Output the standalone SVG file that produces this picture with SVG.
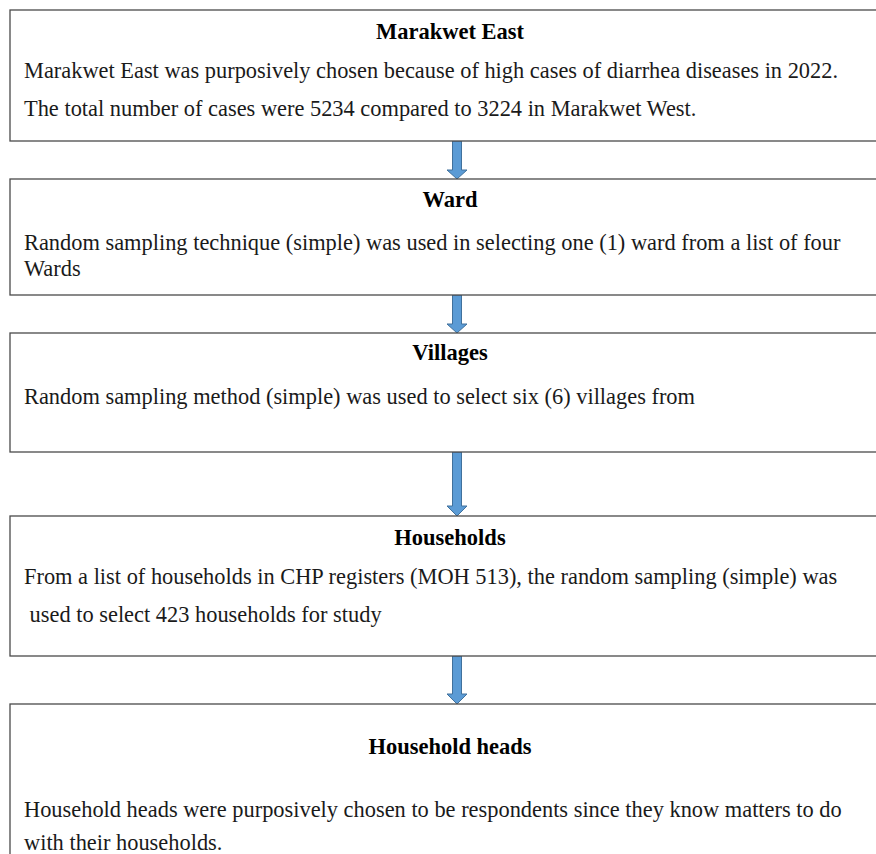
<svg xmlns="http://www.w3.org/2000/svg" width="876" height="854" viewBox="0 0 876 854">
<defs>
<style>
.box{fill:#fff;stroke:#4a4a4a;stroke-width:1.3}
.t{font-family:"Liberation Serif","Times New Roman",serif;font-size:22.4px;fill:#1a1a1a}
.h{font-family:"Liberation Serif","Times New Roman",serif;font-size:22.5px;font-weight:bold;fill:#000;text-anchor:middle}
.arr{fill:#5b9bd5;stroke:#41719c;stroke-width:1}
</style>
</defs>
<rect width="876" height="854" fill="#fff"/>
<g id="connectors">
<polygon class="arr" points="452.5,141 461.5,141 461.5,170 467,170 457,179 447,170 452.5,170"/>
<polygon class="arr" points="452.5,295 461.5,295 461.5,324 467,324 457,333 447,324 452.5,324"/>
<polygon class="arr" points="452.5,452 461.5,452 461.5,506 467,506 457,516 447,506 452.5,506"/>
<polygon class="arr" points="452.5,656 461.5,656 461.5,694 467,694 457,704 447,694 452.5,694"/>
</g>
<g id="marakwet-east">
<rect class="box" x="10" y="10" width="890" height="131"/>
<text class="h" x="450" y="39">Marakwet East</text>
<text class="t" x="24" y="78" textLength="814" lengthAdjust="spacingAndGlyphs">Marakwet East was purposively chosen because of high cases of diarrhea diseases in 2022.</text>
<text class="t" x="24" y="116">The total number of cases were 5234 compared to 3224 in Marakwet West.</text>
</g>
<g id="ward">
<rect class="box" x="10" y="179" width="890" height="116"/>
<text class="h" x="450" y="207">Ward</text>
<text class="t" x="24" y="250">Random sampling technique (simple) was used in selecting one (1) ward from a list of four</text>
<text class="t" x="24" y="276">Wards</text>
</g>
<g id="villages">
<rect class="box" x="10" y="333" width="890" height="119"/>
<text class="h" x="450" y="360">Villages</text>
<text class="t" x="24" y="404">Random sampling method (simple) was used to select six (6) villages from</text>
</g>
<g id="households">
<rect class="box" x="10" y="516" width="890" height="140"/>
<text class="h" x="450" y="545">Households</text>
<text class="t" x="24" y="584">From a list of households in CHP registers (MOH 513), the random sampling (simple) was</text>
<text class="t" x="24" y="622" xml:space="preserve"> used to select 423 households for study</text>
</g>
<g id="household-heads">
<rect class="box" x="10" y="704" width="890" height="170"/>
<text class="h" x="450" y="754">Household heads</text>
<text class="t" x="24" y="817">Household heads were purposively chosen to be respondents since they know matters to do</text>
<text class="t" x="24" y="850">with their households.</text>
</g>
</svg>
